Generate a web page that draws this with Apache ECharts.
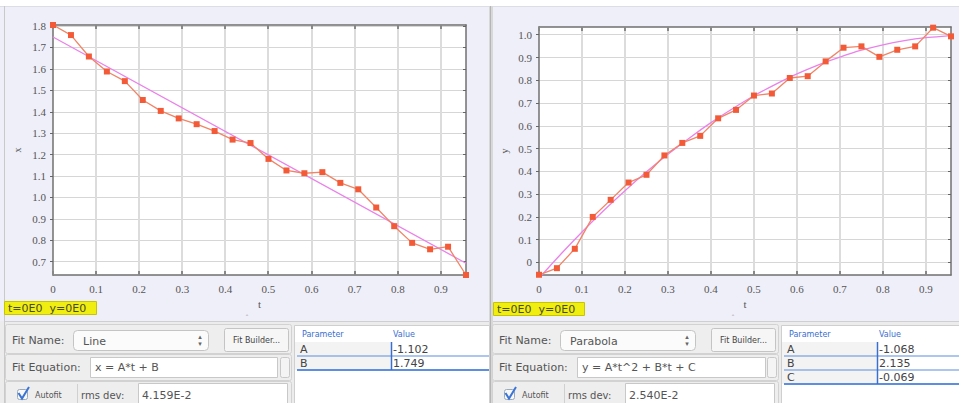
<!DOCTYPE html>
<html><head><meta charset="utf-8">
<script src="https://cdn.jsdelivr.net/npm/echarts@6/dist/echarts.min.js"></script>
<style>html,body{margin:0;padding:0;background:#fff;}#c{width:959px;height:403px;}</style>
</head><body><div id="c"></div>
<script>
// ---- data ----
const tValues = [0, 0.0417, 0.0833, 0.125, 0.1667, 0.2083, 0.25, 0.2917, 0.3333, 0.375, 0.4167, 0.4583,
                 0.5, 0.5417, 0.5833, 0.625, 0.6667, 0.7083, 0.75, 0.7917, 0.8333, 0.875, 0.9167, 0.9583];
const xValues = [1.805, 1.758, 1.658, 1.588, 1.543, 1.455, 1.404, 1.369, 1.342, 1.310, 1.270, 1.254,
                 1.180, 1.126, 1.113, 1.118, 1.068, 1.038, 0.953, 0.866, 0.788, 0.758, 0.770, 0.638];
const yValues = [-0.054, -0.025, 0.060, 0.200, 0.275, 0.351, 0.385, 0.470, 0.525, 0.556, 0.633, 0.670,
                 0.733, 0.742, 0.810, 0.818, 0.883, 0.943, 0.949, 0.903, 0.934, 0.949, 1.031, 0.993];
const lineFitT = [0, 0.9583];
const lineFitX = [1.749, 0.693];
const parabolaT = [0, 0.05, 0.1, 0.15, 0.2, 0.25, 0.3, 0.35, 0.4, 0.45, 0.5, 0.55, 0.6, 0.65, 0.7, 0.75, 0.8, 0.85, 0.9, 0.95, 0.9583];
const parabolaY = [-0.069, 0.035, 0.134, 0.227, 0.315, 0.398, 0.475, 0.547, 0.614, 0.675, 0.732, 0.782, 0.828, 0.868, 0.902, 0.932, 0.956, 0.974, 0.987, 0.995, 0.996];
const tTicks = [0, 0.1, 0.2, 0.3, 0.4, 0.5, 0.6, 0.7, 0.8, 0.9];
const xTicks = [0.7, 0.8, 0.9, 1.0, 1.1, 1.2, 1.3, 1.4, 1.5, 1.6, 1.7, 1.8];
const yTicks = [0, 0.1, 0.2, 0.3, 0.4, 0.5, 0.6, 0.7, 0.8, 0.9, 1.0];
const leftFit = {name: 'Line', eq: 'x = A*t + B', rms: '4.159E-2'};
const rightFit = {name: 'Parabola', eq: 'y = A*t^2 + B*t + C', rms: '2.540E-2'};
const leftParamNames = ['A', 'B'];
const leftParamValues = ['-1.102', '1.749'];
const rightParamNames = ['A', 'B', 'C'];
const rightParamValues = ['-1.068', '2.135', '-0.069'];
const coordText = 't=0E0  y=0E0';

// ---- chart ----
const pairs = (a, b) => a.map((v, i) => [v, b[i]]);
const fmt = v => (v === 0 ? '0' : v.toFixed(1));
const AX = '#707070', GRIDC = '#d6d6d6', LBL = '#555';
const labelFont = {color: LBL, fontFamily: 'Liberation Serif', fontSize: 11};

function mainX(gi, min, max) {
  return {type: 'value', gridIndex: gi, min: min, max: max, interval: 0.1, position: 'bottom',
    name: 't', nameLocation: 'middle', nameGap: 20,
    nameTextStyle: {color: LBL, fontFamily: 'Liberation Serif', fontSize: 11},
    axisLine: {show: true, onZero: false, lineStyle: {color: AX, width: 1.5}},
    axisTick: {show: false},
    axisLabel: Object.assign({customValues: tTicks, formatter: fmt, margin: 8}, labelFont),
    splitLine: {show: false}};
}
function mainY(gi, min, max, ticks, nm, gap) {
  return {type: 'value', gridIndex: gi, min: min, max: max, position: 'left',
    name: nm, nameLocation: 'middle', nameGap: gap, nameRotate: 90,
    nameTextStyle: {color: LBL, fontFamily: 'Liberation Serif', fontSize: 10},
    axisLine: {show: true, onZero: false, lineStyle: {color: AX, width: 1.5}},
    axisTick: {show: true, inside: false, length: 3, customValues: ticks, lineStyle: {color: '#666'}},
    axisLabel: Object.assign({customValues: ticks, formatter: fmt, margin: 7}, labelFont),
    splitLine: {show: true, lineStyle: {color: GRIDC, width: 1}}};
}
function sideX(gi, min, max) {
  return {type: 'value', gridIndex: gi, min: min, max: max, interval: 0.1, position: 'top',
    axisLine: {show: true, onZero: false, lineStyle: {color: AX, width: 1.5}},
    axisTick: {show: false}, axisLabel: {show: false}, splitLine: {show: false}};
}
function sideY(gi, min, max, ticks) {
  return {type: 'value', gridIndex: gi, min: min, max: max, position: 'right',
    axisLine: {show: true, onZero: false, lineStyle: {color: AX, width: 1.5}},
    axisTick: {show: true, inside: true, length: 3, customValues: ticks, lineStyle: {color: '#666'}},
    axisLabel: {show: false}, splitLine: {show: false}};
}
// vertical grid lines + top/bottom inward ticks, placed through the x scale
function vGrid(xi, yi, yRef) {
  return {type: 'custom', xAxisIndex: xi, yAxisIndex: yi, z: 1, silent: true, animation: false,
    data: tTicks.map(v => [v, yRef]), encode: {x: 0, y: 1},
    renderItem: function (params, api) {
      const cs = params.coordSys;
      const px = Math.round(api.coord([api.value(0), api.value(1)])[0]);
      const kids = [
        {type: 'rect', shape: {x: px - 1, y: cs.y, width: 2, height: 4}, style: {fill: '#888'}},
        {type: 'rect', shape: {x: px - 1, y: cs.y + cs.height - 4, width: 2, height: 4}, style: {fill: '#888'}}
      ];
      if (api.value(0) > 0) {
        kids.unshift({type: 'rect', shape: {x: px - 1, y: cs.y, width: 2, height: cs.height}, style: {fill: '#dcdcdc'}});
      }
      return {type: 'group', children: kids};
    }};
}

const dataStyle = {type: 'line', symbol: 'rect', symbolSize: 6, showSymbol: true,
  itemStyle: {color: '#f35b38'}, lineStyle: {color: '#f08466', width: 1.3}, z: 4, animation: false};
const fitStyle = {type: 'line', symbol: 'none', lineStyle: {color: '#ea82ea', width: 1.3}, z: 3, animation: false, clip: true};

// ---- GUI drawing helpers ----
const G = [];
const SANS = 'DejaVu Sans';
function rect(x, y, w, h, fill, stroke, r, z) {
  G.push({type: 'rect', z: z === undefined ? 0 : z, silent: true,
    shape: {x: x, y: y, width: w, height: h, r: r || 0},
    style: {fill: fill, stroke: stroke || null, lineWidth: 1}});
}
function line(x1, y1, x2, y2, color, w, z) {
  const lw = w || 1;
  if (x1 === x2) {
    rect(x1 - lw / 2, Math.min(y1, y2), lw, Math.abs(y2 - y1), color, null, 0, z === undefined ? 1 : z);
  } else {
    rect(Math.min(x1, x2), y1 - lw / 2, Math.abs(x2 - x1), lw, color, null, 0, z === undefined ? 1 : z);
  }
}
function text(x, y, s, size, color, align, z) {
  G.push({type: 'text', z: z === undefined ? 2 : z, silent: true, x: x, y: y,
    style: {text: s, fill: color || '#555', font: size + 'px "' + SANS + '"',
      textAlign: align || 'left', textVerticalAlign: 'middle', align: align || 'left', verticalAlign: 'middle'}});
}

// backgrounds
rect(0, 6, 959, 315, '#efeff9', null, 0, -10);
line(0, 6.5, 959, 6.5, '#dddde6', 1, -9);
line(4.5, 6, 4.5, 403, '#c9c9c9', 1, -9);
rect(489, 6, 4, 397, '#d8d8d8', null, 0, -9);
line(490.5, 6, 490.5, 403, '#b5b5b5', 1, -9);
rect(0, 321, 959, 82, '#ececec', null, 0, -10);
line(5, 321.5, 489, 321.5, '#cfcfcf', 1, -9);
line(493, 321.5, 959, 321.5, '#cfcfcf', 1, -9);
text(247, 318, '\u02c4', 7, '#999', 'center');
text(733, 318, '\u02c4', 7, '#999', 'center');

// coordinate labels
rect(4.5, 301.5, 92, 13, '#f0ee10', '#c9c400');
text(8, 308.5, coordText, 11, '#4a4a2a');
rect(493.5, 302.5, 91, 13, '#f0ee10', '#c9c400');
text(497, 309.5, coordText, 11, '#4a4a2a');

function fitPanel(ox, fit, tw) {
  rect(ox + 5.5, 324.5, 286, 29, '#eeeeee', '#d2d2d2', 2);
  rect(ox + 5.5, 354.5, 286, 26, '#eeeeee', '#d2d2d2', 2);
  rect(ox + 5.5, 381.5, 286, 24, '#eeeeee', '#d2d2d2', 2);
  text(ox + 12, 340, 'Fit Name:', 11, '#555');
  rect(ox + 73.5, 330.5, 135, 20, '#fbfbfb', '#c4c4c4', 4);
  text(ox + 83, 341, fit.name, 11, '#555');
  text(ox + 200, 337, '\u25b4', 7, '#666', 'center');
  text(ox + 200, 344, '\u25be', 7, '#666', 'center');
  rect(ox + 224.5, 328.5, 64, 23, '#f6f6f6', '#c4c4c4', 2);
  text(ox + 256.5, 340, 'Fit Builder...', 8, '#444', 'center');
  text(ox + 12, 367, 'Fit Equation:', 11, '#555');
  rect(ox + 90.5, 357.5, tw, 20, '#ffffff', '#c8c8c8');
  text(ox + 95, 367.5, fit.eq, 11, '#555');
  rect(ox + 280.5, 357.5, 9, 20, '#f4f4f4', '#c8c8c8', 2);
  rect(ox + 17.5, 389.5, 10, 10, '#f8f8f8', '#9ab', 2);
  G.push({type: 'polyline', z: 2, silent: true, shape: {points: [[ox + 18.5, 393], [ox + 22, 398.5], [ox + 29, 387]]},
    style: {stroke: '#3b74d4', lineWidth: 2, fill: null}});
  text(ox + 35, 395, 'Autofit', 8, '#555');
  line(ox + 77.5, 384, ox + 77.5, 403, '#d0d0d0');
  text(ox + 81, 395, 'rms dev:', 10, '#555');
  rect(ox + 138.5, 383.5, 149, 22, '#ffffff', '#c8c8c8');
  text(ox + 142, 395, fit.rms, 11, '#555');
}
fitPanel(0, leftFit, 187);
fitPanel(487, rightFit, 188);

function paramTable(x0, x1, colX, names, values) {
  rect(x0 + 0.5, 325.5, x1 - x0, 80, '#ffffff', '#cfcfcf');
  text(x0 + 8, 334, 'Parameter', 8, '#3a6fd0');
  text(colX + 2, 334, 'Value', 8, '#3a6fd0');
  names.forEach((n, i) => {
    const top = 342 + i * 14;
    rect(x0 + 1, top, colX - x0 - 1, 14, '#f3f3f3', null);
    text(x0 + 6, top + 7.5, n, 11, '#444');
    text(colX + 2, top + 7.5, values[i], 11, '#444');
    line(x0 + 3, top + 14, x1, top + 14, '#5d8ee0', i === names.length - 1 ? 2 : 1);
  });
  line(colX + 0.5, 342, colX + 0.5, 342 + names.length * 14, '#3a6fd0', 1.5);
}
paramTable(294, 489, 391, leftParamNames, leftParamValues);
paramTable(781, 959, 877, rightParamNames, rightParamValues);

const option = {
  animation: false,
  backgroundColor: 'transparent',
  grid: [
    {left: 53, top: 25, width: 413, height: 250, show: true, backgroundColor: '#ffffff', borderWidth: 0, z: -5},
    {left: 539, top: 27, width: 412, height: 248, show: true, backgroundColor: '#ffffff', borderWidth: 0, z: -5}
  ],
  xAxis: [mainX(0, 0, 0.9583), mainX(1, 0, 0.9583), sideX(0, 0, 0.9583), sideX(1, 0, 0.9583)],
  yAxis: [mainY(0, 0.638, 1.805, xTicks, 'x', 31), mainY(1, -0.055, 1.034, yTicks, 'y', 30),
          sideY(0, 0.638, 1.805, xTicks), sideY(1, -0.055, 1.034, yTicks)],
  series: [
    vGrid(0, 0, 1.2), vGrid(1, 1, 0.5),
    Object.assign({xAxisIndex: 0, yAxisIndex: 0, data: pairs(lineFitT, lineFitX)}, fitStyle),
    Object.assign({xAxisIndex: 0, yAxisIndex: 0, data: pairs(tValues, xValues), clip: false}, dataStyle),
    Object.assign({xAxisIndex: 1, yAxisIndex: 1, data: pairs(parabolaT, parabolaY), smooth: 0.3}, fitStyle),
    Object.assign({xAxisIndex: 1, yAxisIndex: 1, data: pairs(tValues, yValues), clip: false}, dataStyle)
  ],
  graphic: G
};
const chart = echarts.init(document.getElementById('c'), null, {renderer: 'svg', width: 959, height: 403});
chart.setOption(option);
</script>
</body></html>
